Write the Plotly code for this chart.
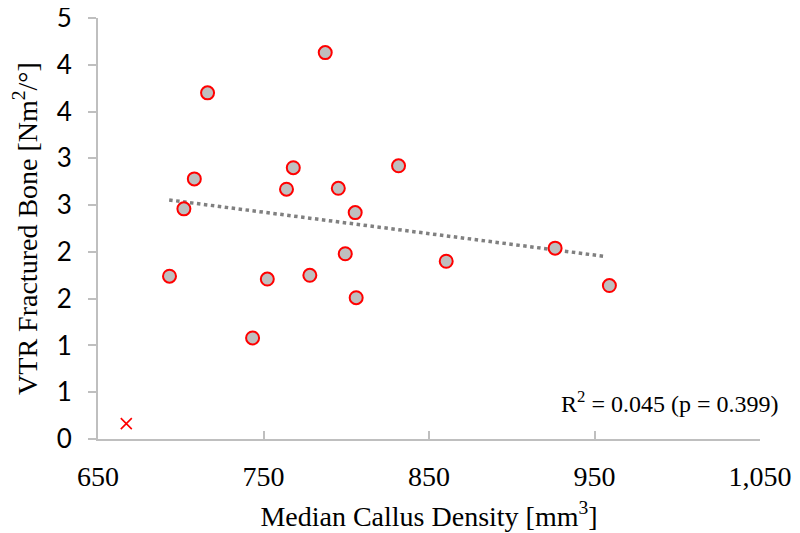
import plotly.graph_objects as go

# Data
density = [693.2, 701.9, 708.2, 716.2, 743.4, 752.3, 763.9, 768.0, 778.0, 787.3,
           795.2, 799.4, 805.4, 806.0, 831.6, 860.4, 926.2, 959.0]
vtr = [1.74, 2.46, 2.78, 3.70, 1.08, 1.71, 2.67, 2.90, 1.75, 4.13,
       2.68, 1.98, 2.42, 1.51, 2.92, 1.90, 2.04, 1.64]

outlier_x = [667.1]
outlier_y = [0.164]

trend_x = [693.0, 957.0]
trend_y = [2.555, 1.95]

y_tickvals = [0, 0.5, 1, 1.5, 2, 2.5, 3, 3.5, 4, 4.5]
y_ticktext = ["0", "1", "1", "2", "2", "3", "3", "4", "4", "5"]
x_tickvals = [650, 750, 850, 950, 1050]
x_ticktext = ["650", "750", "850", "950", "1,050"]

SERIF = "Liberation Serif"

fig = go.Figure()
fig.add_trace(go.Scatter(x=trend_x, y=trend_y, mode="lines",
                         line=dict(color="#808080", width=3.5, dash="dot"),
                         hoverinfo="skip"))
fig.add_trace(go.Scatter(x=density, y=vtr, mode="markers",
                         marker=dict(size=13, color="#BFBFBF",
                                     line=dict(color="#FF0000", width=2))))
fig.add_trace(go.Scatter(x=outlier_x, y=outlier_y, mode="markers",
                         marker=dict(symbol="x-thin", size=11,
                                     line=dict(color="#FF0000", width=1.6))))

fig.add_annotation(x=1.03, y=0.088, xref="paper", yref="paper",
                   xanchor="right", yanchor="middle", showarrow=False,
                   text="R<sup>2</sup> = 0.045 (p = 0.399)",
                   font=dict(family=SERIF, size=24, color="#000000"))

# The page body has an 8px margin, so the figure is offset by 8px right/down.
fig.update_layout(
    width=800, height=533,
    margin=dict(l=90, r=48, t=10, b=102),
    plot_bgcolor="white", paper_bgcolor="white",
    showlegend=False,
    xaxis=dict(range=[650, 1050], tickvals=x_tickvals, ticktext=x_ticktext,
               automargin=False, ticklabeloverflow="allow",
               showgrid=False, zeroline=False, showline=True,
               linecolor="#BFBFBF", linewidth=2,
               ticks="inside", ticklen=8, tickwidth=2, tickcolor="#BFBFBF",
               ticklabelstandoff=11,
               tickfont=dict(family=SERIF, size=28, color="#000000"),
               title=dict(text="Median Callus Density [mm<sup>3</sup>]",
                          font=dict(family=SERIF, size=28, color="#000000"),
                          standoff=16)),
    yaxis=dict(range=[0, 4.5], tickvals=y_tickvals, ticktext=y_ticktext,
               automargin=False, ticklabeloverflow="allow",
               showgrid=False, zeroline=False, showline=True,
               linecolor="#BFBFBF", linewidth=2,
               ticks="outside", ticklen=8, tickwidth=2, tickcolor="#BFBFBF",
               ticklabelstandoff=11,
               tickfont=dict(family="Lato", size=26, color="#000000"),
               title=dict(text="VTR Fractured Bone [Nm<sup>2</sup>/°]",
                          font=dict(family=SERIF, size=28, color="#000000"),
                          standoff=14)),
)

fig.write_html("out.html")
